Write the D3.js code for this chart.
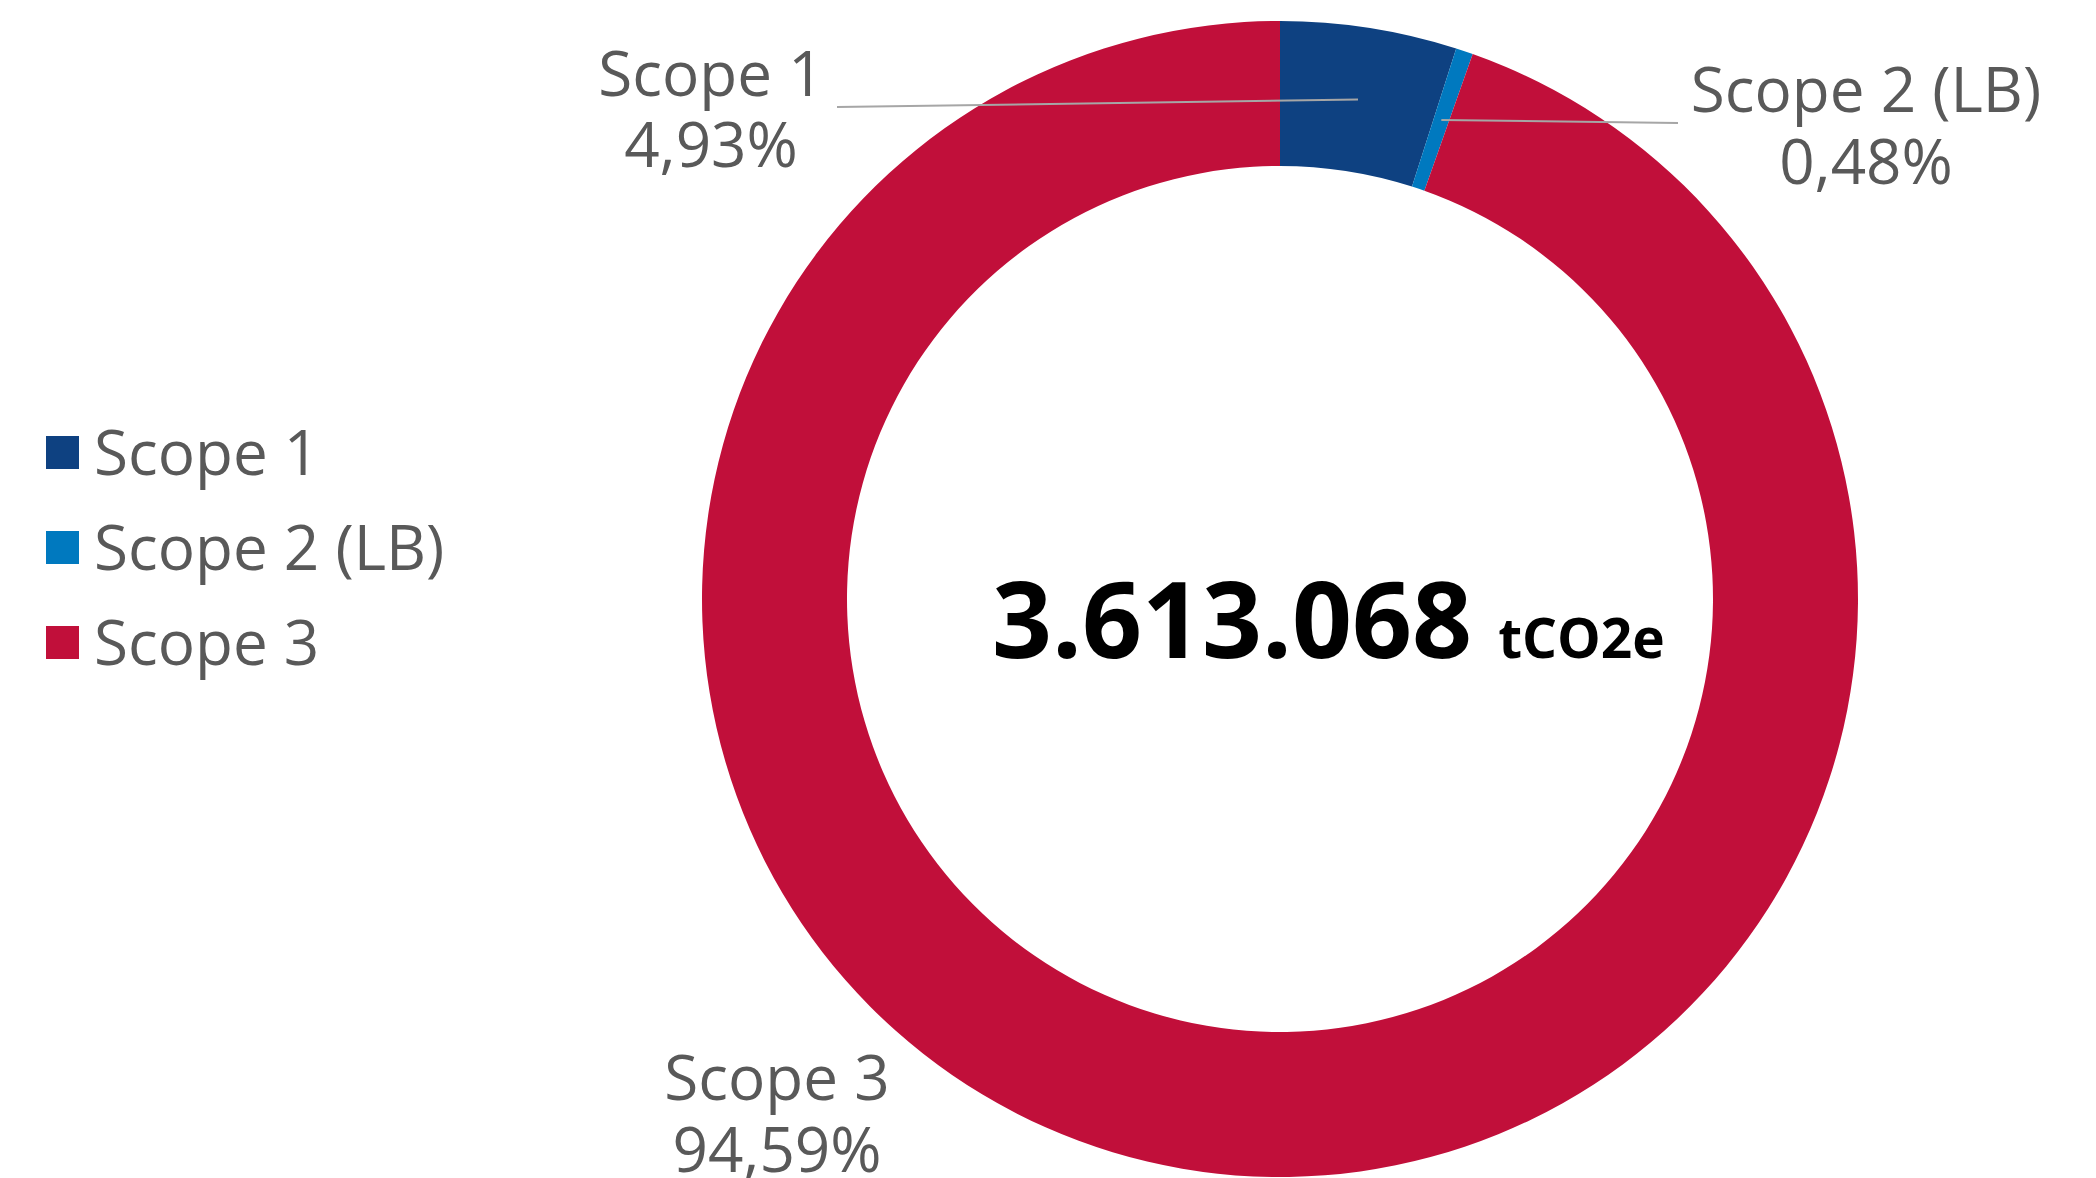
<!DOCTYPE html>
<html>
<head>
<meta charset="utf-8">
<script src="https://cdn.jsdelivr.net/npm/d3@7"></script>
<style>
html,body{margin:0;padding:0;background:#fff;}
svg{display:block;}
</style>
</head>
<body>
<svg id="chart" width="2096" height="1178"></svg>
<script>
const categories = ["Scope 1", "Scope 2 (LB)", "Scope 3"];
const shares = [4.93, 0.48, 94.59];
const shareLabels = ["4,93%", "0,48%", "94,59%"];
const colors = ["#0e4181", "#0079bf", "#c10f3a"];
const totalLabel = "3.613.068";
const unitLabel = "tCO2e";

const W = 2096, H = 1178;
const cx = 1280, cy = 599, rOuter = 578, rInner = 433;
const FONT = "'Open Sans', 'Noto Sans', sans-serif";
const TEXT = "#595959";

const svg = d3.select("#chart");
const data = categories.map((c, i) => ({cat: c, v: shares[i], lab: shareLabels[i], col: colors[i]}));

const pie = d3.pie().value(d => d.v).sort(null);
const arc = d3.arc().innerRadius(rInner).outerRadius(rOuter);
const arcs = pie(data);

const g = svg.append("g").attr("transform", `translate(${cx},${cy})`);
g.selectAll("path").data(arcs).join("path")
  .attr("d", arc)
  .attr("fill", d => d.data.col);

// labels (layout positions)
const labelPos = [
  {x: 711, y1: 96, y2: 167, line: [837, 107]},
  {x: 1866, y1: 112, y2: 184, line: [1678, 123]},
  {x: 777, y1: 1100, y2: 1172, line: null}
];

arcs.forEach((a, i) => {
  const p = labelPos[i];
  if (p.line) {
    const c = arc.centroid(a);
    svg.append("line")
      .attr("x1", p.line[0]).attr("y1", p.line[1])
      .attr("x2", cx + c[0]).attr("y2", cy + c[1])
      .attr("stroke", "#a6a6a6").attr("stroke-width", 2);
  }
  const t = svg.append("text")
    .attr("text-anchor", "middle")
    .attr("font-family", FONT)
    .attr("font-size", 62)
    .attr("fill", TEXT);
  t.append("tspan").attr("x", p.x).attr("y", p.y1).text(a.data.cat);
  t.append("tspan").attr("x", p.x).attr("y", p.y2).text(a.data.lab);
});

// center total
const ct = svg.append("text")
  .attr("x", 992).attr("y", 658)
  .attr("text-anchor", "start")
  .attr("font-family", FONT)
  .attr("font-weight", 700)
  .attr("fill", "#000");
ct.append("tspan").attr("font-size", 105).text(totalLabel);
ct.append("tspan").attr("font-size", 55).attr("dx", 26).text(unitLabel);

// legend
const legend = svg.append("g");
data.forEach((d, i) => {
  const y = 436 + i * 95;
  legend.append("rect").attr("x", 46).attr("y", y).attr("width", 33).attr("height", 33).attr("fill", d.col);
  legend.append("text")
    .attr("x", 94).attr("y", y + 39)
    .attr("font-family", FONT)
    .attr("font-size", 62)
    .attr("fill", TEXT)
    .text(d.cat);
});
</script>
</body>
</html>
